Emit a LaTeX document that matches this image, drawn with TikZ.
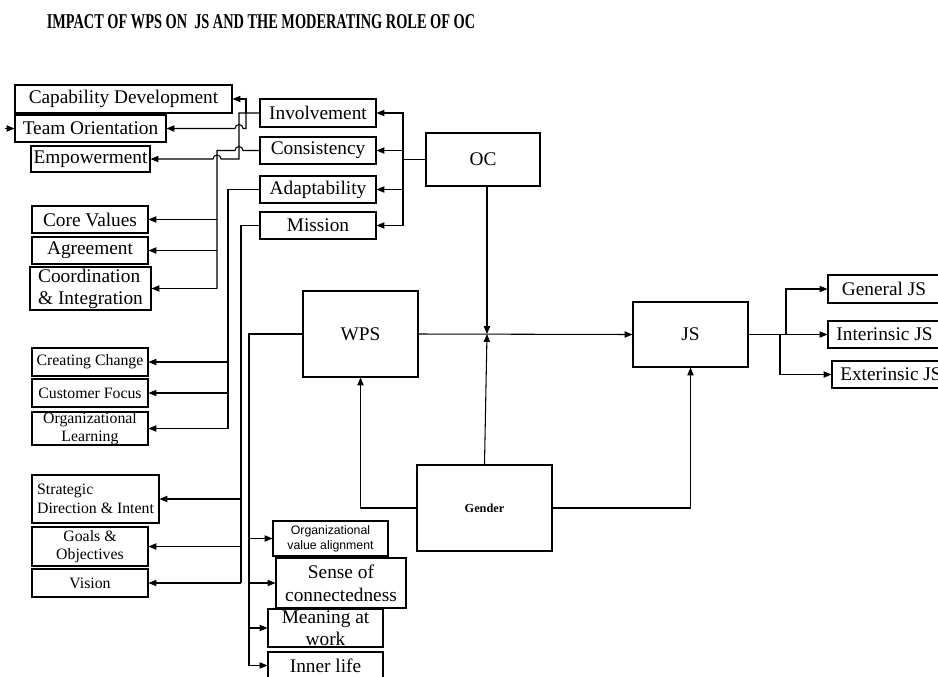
\documentclass[tikz,border=0pt]{standalone}
\usepackage{fontspec}
\setmainfont{Liberation Serif}
\newfontfamily\arialfont{Liberation Sans}
\usepackage{graphicx}
\usetikzlibrary{
  arrows.meta,
  calc
}
\tikzset{
  factor/.style={
    draw,
    line width=0.6pt,
    inner sep=0pt,
    align=center,
    font=\fontsize{11}{12.5}\selectfont
  },
  subfactor/.style={
    factor,
    font=\fontsize{9}{10.5}\selectfont
  },
  wh/.style 2 args={
    minimum width=#1cm,
    minimum height=#2cm
  },
  arr/.style={
    -{Triangle[length=4.5pt,width=3.6pt]},
    line width=0.6pt
  },
  wire/.style={
    line width=0.6pt
  },
  hopr/.style={
    radius=0.08cm
  }
}

\begin{document}
\begin{tikzpicture}[x=0.02cm, y=-0.02cm]
  \useasboundingbox (0,0) rectangle (938,677);

  \node (title) at (261,22)
    {\fontsize{12}{14}\selectfont\bfseries\scalebox{0.68}[1]{IMPACT OF WPS ON \ JS AND THE MODERATING ROLE OF OC}};

  % OC and its four traits
  \node[factor, wh={2.28}{1.06}] (oc) at (483,159.5) {OC};
  \node[factor, wh={2.32}{0.56}] (involve) at (318,113) {Involvement};
  \node[factor, wh={2.32}{0.54}] (consist) at (318,150.5) {Consistency};
  \node[factor, wh={2.32}{0.54}] (adapt) at (318,189.5) {Adaptability};
  \node[factor, wh={2.32}{0.54}] (mission) at (318,225.5) {Mission};

  % indices of the traits
  \node[factor, wh={4.34}{0.56}] (capdev) at (123.5,99) {Capability Development};
  \node[factor, wh={3.02}{0.54}] (team) at (90.5,128.5) {Team Orientation};
  \node[factor, wh={2.38}{0.52}] (empower) at (90.5,159) {Empowerment};
  \node[factor, wh={2.32}{0.54}] (core) at (90,219.5) {Core Values};
  \node[factor, wh={2.32}{0.54}] (agree) at (90,250.5) {Agreement};
  \node[factor, wh={2.42}{0.86}, align=left] (coord) at (90.5,288.5) {Coordination\\\& Integration};
  \node[subfactor, wh={2.32}{0.56}] (change) at (90,362) {Creating Change};
  \node[subfactor, wh={2.32}{0.56}] (custfocus) at (90,393) {Customer Focus};
  \node[subfactor, wh={2.32}{0.66}] (orglearn) at (90,428.5) {Organizational\\Learning};
  \node[subfactor, wh={2.54}{0.96}, align=left] (strat) at (95.5,499) {Strategic\\Direction \& Intent};
  \node[subfactor, wh={2.32}{0.78}] (goals) at (90,546.5) {Goals \&\\Objectives};
  \node[subfactor, wh={2.32}{0.56}] (vision) at (90,583) {Vision};

  % WPS, JS, Gender
  \node[factor, wh={2.3}{1.72}] (wps) at (360.5,334) {WPS};
  \node[factor, wh={2.3}{1.3}] (js) at (690.5,334.5) {JS};
  \node[factor, wh={2.7}{1.72}, font=\fontsize{7}{8}\selectfont\bfseries] (gender) at (484.5,508) {Gender};

  % WPS dimensions
  \node[factor, wh={2.3}{0.7}, font=\arialfont\fontsize{7}{8.5}\selectfont] (valign) at (330.5,538.5) {Organizational\\value alignment};
  \node[factor, wh={2.6}{1.0}, font=\fontsize{11}{13}\selectfont] (connect) at (341,583) {Sense of\\connectedness};
  \node[factor, wh={2.3}{0.76}] (meaning) at (325.5,628) {Meaning at\\work};
  \node[factor, wh={2.3}{0.54}] (inner) at (325.5,665.5) {Inner life};

  % JS facets
  \node[factor, wh={2.24}{0.56}] (genjs) at (884,289) {General JS};
  \node[factor, wh={2.26}{0.54}] (intjs) at (884.5,334.5) {Interinsic JS};
  \node[factor, wh={2.36}{0.54}] (extjs) at (891,374.5) {Exterinsic JS};

  % bus lines
  \coordinate (xoc) at (403,0);
  \coordinate (xinv) at (239,0);
  \coordinate (xcap) at (246,0);
  \coordinate (xcon) at (217,0);
  \coordinate (xada) at (228,0);
  \coordinate (xmis) at (241,0);
  \coordinate (xwps) at (249,0);
  \coordinate (xgen) at (786,0);
  \coordinate (xext) at (780,0);
  \coordinate (mod) at (487,334);
  \coordinate (stub) at ($(team.west)+(-9,0)$);

  \draw[wire] (oc.west) -- (xoc |- oc.west);
  \draw[arr] (xoc |- oc.west) |- (involve.east);
  \draw[arr] (xoc |- oc.west) |- (consist.east);
  \draw[arr] (xoc |- oc.west) |- (adapt.east);
  \draw[arr] (xoc |- oc.west) |- (mission.east);

  \draw[arr] (involve.west) -- (xinv |- involve.west) -- (xinv |- empower.east)
    -- ($(xcon |- empower.east)+(4,0)$) arc[start angle=0, end angle=180, hopr] -- (empower.east);
  \draw[arr] (xcap |- involve.west) |- (capdev.east);
  \draw[arr] (xcap |- involve.west) -- (xcap |- team.east)
    -- ($(xinv |- team.east)+(4,0)$) arc[start angle=0, end angle=180, hopr] -- (team.east);
  \draw[arr] (stub) -- (team.west);

  \draw[wire] (consist.west) -- ($(xinv |- consist.west)+(4,0)$)
    arc[start angle=0, end angle=180, hopr] -- (xcon |- consist.west) -- (xcon |- coord.east);
  \draw[arr] (xcon |- core.east) -- (core.east);
  \draw[arr] (xcon |- agree.east) -- (agree.east);
  \draw[arr] (xcon |- coord.east) -- (coord.east);

  \draw[wire] (adapt.west) -| (xada |- orglearn.east);
  \draw[arr] (xada |- change.east) -- (change.east);
  \draw[arr] (xada |- custfocus.east) -- (custfocus.east);
  \draw[arr] (xada |- orglearn.east) -- (orglearn.east);

  \draw[wire] (mission.west) -| (xmis |- vision.east);
  \draw[arr] (xmis |- strat.east) -- (strat.east);
  \draw[arr] (xmis |- goals.east) -- (goals.east);
  \draw[arr] (xmis |- vision.east) -- (vision.east);

  \draw[wire, line width=1pt] (wps.west) -| (xwps |- inner.west);
  \draw[arr] (xwps |- valign.west) -- (valign.west);
  \draw[arr] (xwps |- connect.west) -- (connect.west);
  \draw[arr] (xwps |- meaning.west) -- (meaning.west);
  \draw[arr] (xwps |- inner.west) -- (inner.west);

  % main model
  \draw[arr] (wps.east) -- (js.west);
  \draw[arr] (oc.south -| mod) -- (mod);
  \draw[arr] (gender.north) -- (mod);
  \draw[arr] (gender.west) -| (wps.south);
  \draw[arr] (gender.east) -| (js.south);

  \draw[arr] (js.east) -- (xgen |- js.east) |- (genjs.west);
  \draw[arr] (js.east) -- (intjs.west);
  \draw[arr] (xext |- js.east) |- (extjs.west);
\end{tikzpicture}
\end{document}
